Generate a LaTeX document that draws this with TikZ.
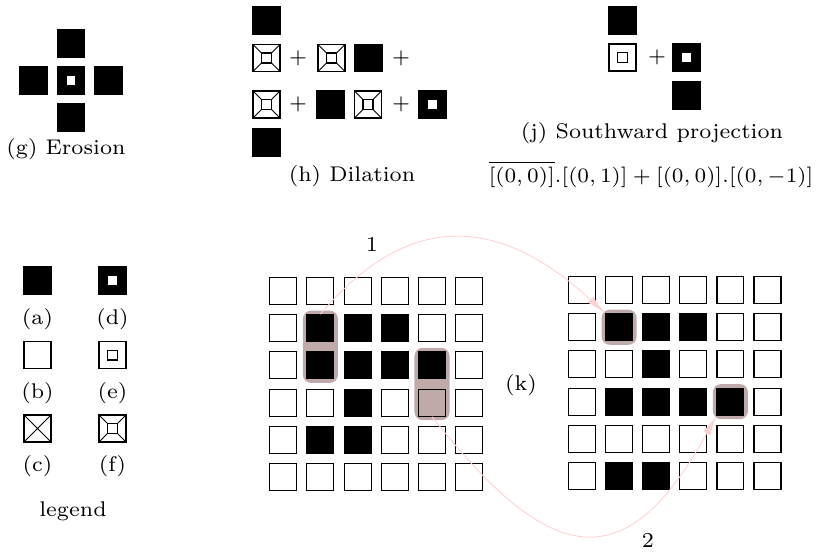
\documentclass[tikz,border=0pt]{standalone}
\usetikzlibrary{arrows.meta,fit,backgrounds}
\definecolor{HiliteBrown}{RGB}{191,169,169}
\definecolor{ArcPink}   {RGB}{255,210,210}

\begin{document}
\begin{tikzpicture}[x=0.3413pt,y=-0.3413pt,
  font=\fontsize{7.25}{8.7}\selectfont,
  sq/.style={rectangle,minimum size=9.2pt,inner sep=0pt,line width=0.38pt,draw=black},
  blk/.style={sq,fill=black},
  wht/.style={sq},
  cell/.style={sq},
  xsq/.style={sq,path picture={
      \draw[line width=0.28pt] (path picture bounding box.south west)--(path picture bounding box.north east)
        (path picture bounding box.north west)--(path picture bounding box.south east);}},
  dsq/.style={blk,path picture={
      \fill[white] ([shift={(-1.5pt,-1.5pt)}]path picture bounding box.center)
        rectangle ([shift={(1.5pt,1.5pt)}]path picture bounding box.center);}},
  esq/.style={sq,path picture={
      \draw[line width=0.36pt] ([shift={(-1.7pt,-1.7pt)}]path picture bounding box.center)
        rectangle ([shift={(1.7pt,1.7pt)}]path picture bounding box.center);}},
  fsq/.style={sq,line width=0.42pt,path picture={
      \draw[line width=0.42pt] ([shift={(-1.7pt,-1.7pt)}]path picture bounding box.center)
        rectangle ([shift={(1.7pt,1.7pt)}]path picture bounding box.center);
      \draw[line width=0.34pt]
        (path picture bounding box.south west)--([shift={(-1.7pt,-1.7pt)}]path picture bounding box.center)
        (path picture bounding box.south east)--([shift={(1.7pt,-1.7pt)}]path picture bounding box.center)
        (path picture bounding box.north west)--([shift={(-1.7pt,1.7pt)}]path picture bounding box.center)
        (path picture bounding box.north east)--([shift={(1.7pt,1.7pt)}]path picture bounding box.center);}},
  hilite/.style={rectangle,fill=HiliteBrown,draw=none,inner sep=1.2pt,rounded corners=2.8pt},
  arcline/.style={ArcPink,line width=0.3pt,-{Latex[length=6.8pt,width=2.7pt]}}]
  \useasboundingbox (0,0) rectangle (819,552);

  %% (g) erosion
  \node[blk] (g-top)   at (71,43.5)   {};
  \node[blk] (g-left)  at (33.5,80.5) {};
  \node[dsq] (g-mid)   at (71,80.5)   {};
  \node[blk] (g-right) at (108.5,80.5){};
  \node[blk] (g-bot)   at (71,117.5)  {};
  \node (g-cap) at (66,149) {(g) Erosion};

  %% (h) dilation
  \node[blk] (h-top) at (266.5,20.5) {};
  \node[fsq] (h-a1) at (266.5,58) {};
  \node (h-p1) at (298,58) {$+$};
  \node[fsq] (h-a2) at (331.5,58) {};
  \node[blk] (h-a3) at (368.5,58) {};
  \node (h-p2) at (401,58) {$+$};
  \node[fsq] (h-b1) at (266.5,104.5) {};
  \node (h-p3) at (298,104.5) {$+$};
  \node[blk] (h-b2) at (330.5,104.5) {};
  \node[fsq] (h-b3) at (368,104.5) {};
  \node (h-p4) at (401,104.5) {$+$};
  \node[dsq] (h-b4) at (432.5,104.5) {};
  \node[blk] (h-bot) at (266.5,142.5) {};
  \node (h-cap) at (352,176) {(h) Dilation};

  %% (j) southward projection
  \node[blk] (j-top) at (622.5,20.5) {};
  \node[esq] (j-e)   at (622.5,57.5) {};
  \node (j-p) at (657,57.5) {$+$};
  \node[dsq] (j-d)   at (686.5,57.5) {};
  \node[blk] (j-bot) at (686.5,95.5) {};
  \node (j-cap) at (652,133) {(j) Southward projection};
  \node (j-eq) at (651,174) {$\overline{[(0,0)]}.[(0,1)]+[(0,0)].[(0,-1)]$};

  %% legend
  \node[blk] (lg-a) at (37.5,280.5) {};
  \node[dsq] (lg-d) at (112.5,280.5) {};
  \node (lg-la) at (37.5,319) {(a)};
  \node (lg-ld) at (112.5,319) {(d)};
  \node[wht] (lg-b) at (37.5,355) {};
  \node[esq] (lg-e) at (112.5,355) {};
  \node (lg-lb) at (37.5,393) {(b)};
  \node (lg-le) at (112.5,393) {(e)};
  \node[xsq] (lg-c) at (37.5,428.5) {};
  \node[fsq] (lg-f) at (112.5,428.5) {};
  \node (lg-lc) at (37.5,466) {(c)};
  \node (lg-lf) at (112.5,466) {(f)};
  \node (lg-cap) at (73,511) {legend};

  %% (k) grids before and after
  \foreach \r in {0,...,5}
    \foreach \c in {0,...,5}{
      \node[cell] (L-\r-\c) at ({283.2+37.2*\c},{291+37.2*\r}) {};
      \node[cell] (R-\r-\c) at ({582+37.1*\c},{290+37.2*\r}) {};
    }
  \foreach \r/\c in {1/1,1/2,1/3,2/1,2/2,2/3,2/4,3/2,4/1,4/2}
    \fill (L-\r-\c.south west) rectangle (L-\r-\c.north east);
  \foreach \r/\c in {1/1,1/2,1/3,2/2,3/1,3/2,3/3,3/4,5/1,5/2}
    \fill (R-\r-\c.south west) rectangle (R-\r-\c.north east);
  \begin{scope}[on background layer]
    \node[hilite,fit=(L-1-1)(L-2-1)] (hl-L1) {};
    \node[hilite,fit=(L-2-4)(L-3-4)] (hl-L2) {};
    \node[hilite,fit=(R-1-1)] (hl-R1) {};
    \node[hilite,fit=(R-3-4)] (hl-R2) {};
  \end{scope}
  \node (k-cap) at (521,385) {(k)};

  %% moves
  \draw[arcline] (L-1-1.north) .. controls (409,209) and (500,216) .. (R-1-1.north west);
  \draw[arcline] (L-3-4.south) .. controls (547,563) and (624,585) .. (R-3-4.south west);
  \node (mv-1) at (372,244) {1};
  \node (mv-2) at (648,540) {2};
\end{tikzpicture}
\end{document}
